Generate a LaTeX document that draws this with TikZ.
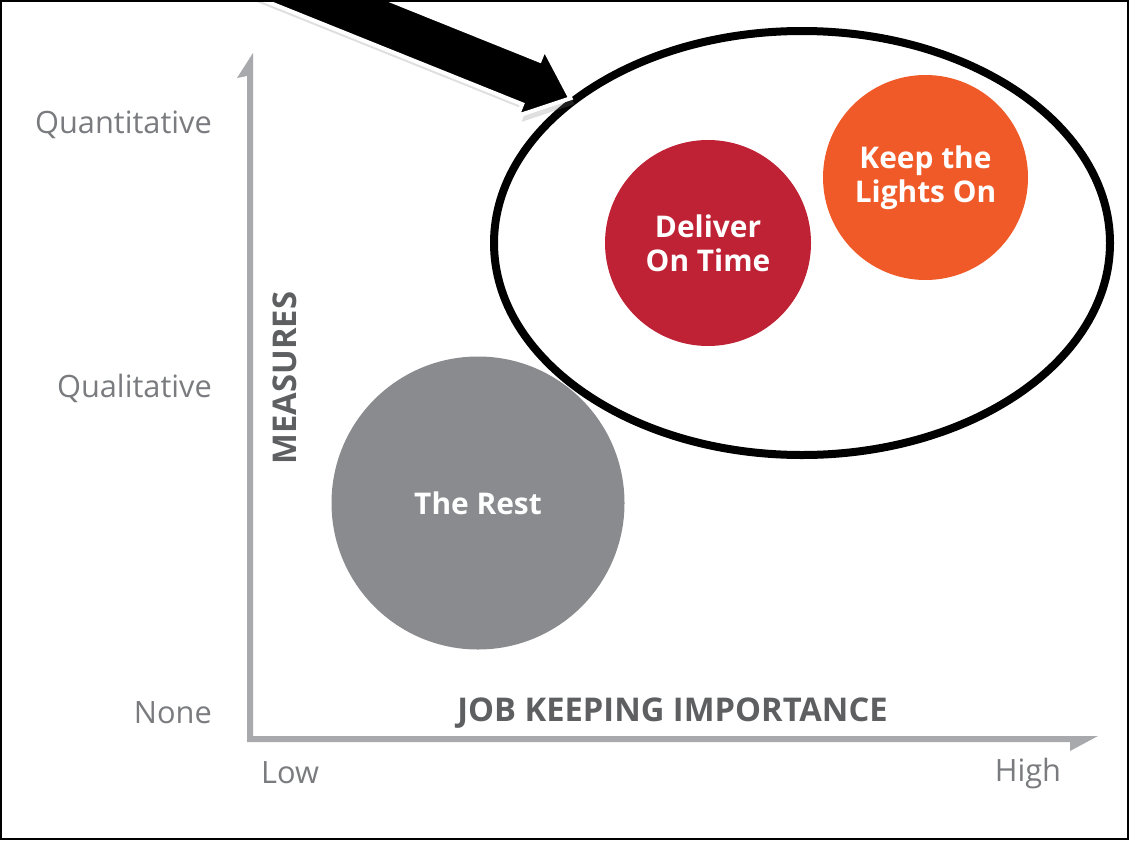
\documentclass[tikz,border=0pt]{standalone}
\usepackage{fontspec}
\setmainfont{Open Sans}
\usepackage{tikz}
\usetikzlibrary{positioning,shapes.geometric,shadows}
\definecolor{restgray}{HTML}{8A8B8E}
\definecolor{deliverred}{HTML}{BE2234}
\definecolor{lightsorange}{HTML}{F05A28}
\definecolor{axisgray}{HTML}{A7A9AC}
\definecolor{labelgray}{HTML}{7A7B7E}
\definecolor{titlegray}{HTML}{5E5F61}

\begin{document}
\begin{tikzpicture}[
  bubble/.style={circle, inner sep=0pt, text=white, align=center, font=\fontsize{17}{19.5}\selectfont\bfseries},
  scalelabel/.style={text=labelgray, font=\fontsize{17.5}{20}\selectfont},
  axistitle/.style={text=titlegray, font=\fontsize{18.6}{20}\selectfont\bfseries},
  bigarrow/.style={fill=black, draw=white, line width=0.08cm, line join=miter, drop shadow={shadow xshift=0.08cm, shadow yshift=-0.12cm, opacity=0.25}}
]
\useasboundingbox (0,0) rectangle (22.58,-16.8);

% axes
\fill[axisgray] (5.06,-1.06) -- (5.06,-14.72) -- (21.96,-14.72) -- (21.40,-15.02) -- (21.40,-14.84) -- (4.94,-14.84) -- (4.94,-1.52) -- (4.74,-1.56) -- cycle;

\node[scalelabel, anchor=east] (quant) at (4.36,-2.5) {Quantitative};
\node[scalelabel, anchor=east] (qual) at (4.36,-7.76) {Qualitative};
\node[scalelabel, anchor=east] (none) at (4.36,-14.26) {None};
\node[scalelabel] (low) at (5.8,-15.46) {Low};
\node[scalelabel] (high) at (20.56,-15.46) {High};

\node[axistitle, rotate=90] (measures) at (5.7,-7.56) {MEASURES};
\node[axistitle] (importance) at (13.45,-14.26) {JOB KEEPING IMPORTANCE};

% bubbles
\node[bubble, fill=restgray, minimum size=5.86cm] (rest) at (9.56,-10.06) {The Rest};
\node[bubble, fill=deliverred, minimum size=4.12cm] (deliver) at (14.16,-4.86) {Deliver\\On Time};
\node[bubble, fill=lightsorange, minimum size=4.1cm] (lights) at (18.51,-3.55) {Keep the\\Lights On};

\node[ellipse, draw, line width=0.16cm, minimum width=12.32cm, minimum height=8.48cm] (focus) at (16.04,-4.86) {};

% pointer
\begin{scope}[shift={(focus.148)}, rotate=-21.9]
\draw[bigarrow] (0,0) -- (-0.85,0.72) -- (-0.85,0.47) -- (-9,0.47) -- (-9,-0.47) -- (-0.85,-0.47) -- (-0.85,-0.72) -- cycle;
\end{scope}

\draw[line width=0.05cm] (0.025,-0.025) rectangle (22.555,-16.775);
\end{tikzpicture}
\end{document}
